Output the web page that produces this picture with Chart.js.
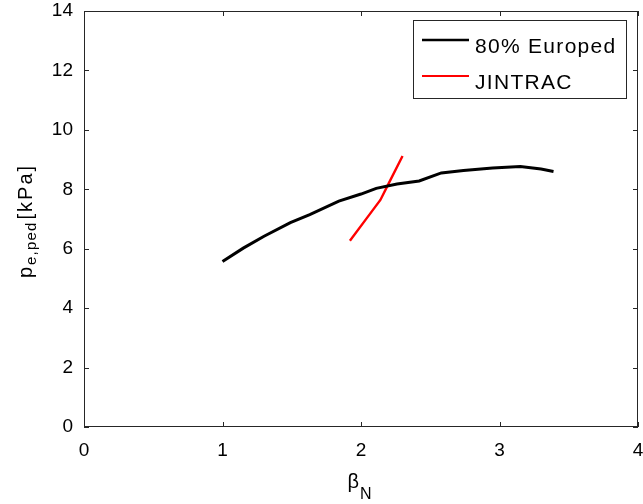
<!DOCTYPE html>
<html>
<head>
<meta charset="utf-8">
<script src="https://cdn.jsdelivr.net/npm/chart.js@4"></script>
<style>
  html, body { margin: 0; padding: 0; background: #fff; }
  #wrap { width: 643px; height: 504px; }
</style>
</head>
<body>
<div id="wrap"><canvas id="chart" width="643" height="504"></canvas></div>
<script>
// beta_N vs pedestal electron pressure
const europedBeta = [1.00, 1.15, 1.30, 1.49, 1.63, 1.84, 2.00, 2.11, 2.26, 2.42, 2.58, 2.74, 2.95, 3.15, 3.30, 3.39];
const europedPres = [5.57, 6.02, 6.42, 6.88, 7.15, 7.60, 7.84, 8.03, 8.18, 8.28, 8.55, 8.63, 8.72, 8.77, 8.68, 8.60];

const jintracBeta = [1.92, 2.05, 2.14, 2.20, 2.30];
const jintracPres = [6.27, 7.08, 7.64, 8.20, 9.12];

const xTicks = [0, 1, 2, 3, 4];
const yTicks = [0, 2, 4, 6, 8, 10, 12, 14];

const FONT = '"Liberation Sans", Arial, Helvetica, sans-serif';

function toPoints(xs, ys) {
    return xs.map((x, i) => ({ x: x, y: ys[i] }));
}

// box frame, inward ticks on all four sides, axis titles with subscripts, legend
const matlabAxes = {
    id: 'matlabAxes',
    afterDraw(chart) {
        const ctx = chart.ctx;
        const a = chart.chartArea;
        const xs = chart.scales.x;
        const ys = chart.scales.y;
        ctx.save();
        ctx.strokeStyle = '#262626';
        ctx.lineWidth = 1;
        ctx.strokeRect(a.left + 0.5, a.top + 0.5, a.right - a.left - 1, a.bottom - a.top - 1);

        const tl = 5;
        ctx.beginPath();
        xTicks.forEach(v => {
            const px = Math.round(xs.getPixelForValue(v)) + 0.5;
            ctx.moveTo(px, a.bottom); ctx.lineTo(px, a.bottom - tl);
            ctx.moveTo(px, a.top); ctx.lineTo(px, a.top + tl);
        });
        yTicks.forEach(v => {
            const py = Math.round(ys.getPixelForValue(v)) + 0.5;
            ctx.moveTo(a.left, py); ctx.lineTo(a.left + tl, py);
            ctx.moveTo(a.right, py); ctx.lineTo(a.right - tl, py);
        });
        ctx.stroke();

        // x title: beta_N
        ctx.fillStyle = '#000';
        ctx.textBaseline = 'alphabetic';
        ctx.textAlign = 'left';
        ctx.font = '20px ' + FONT;
        const bw = ctx.measureText('β').width;
        ctx.font = '16px ' + FONT;
        const nw = ctx.measureText('N').width;
        let x0 = (a.left + a.right) / 2 - (bw + nw) / 2 - 2;
        ctx.font = '20px ' + FONT;
        ctx.fillText('β', x0, 488);
        ctx.font = '16px ' + FONT;
        ctx.fillText('N', x0 + bw + 1, 499);

        // y title: p_{e,ped} [kPa], rotated
        ctx.save();
        ctx.translate(32, 221);
        ctx.rotate(-Math.PI / 2);
        ctx.font = '20px ' + FONT;
        ctx.letterSpacing = '2px';
        const pw = ctx.measureText('p').width;
        const kw = ctx.measureText('[kPa]').width;
        ctx.font = '15px ' + FONT;
        ctx.letterSpacing = '1.2px';
        const sw = ctx.measureText('e,ped').width;
        let s = -(pw + sw + 2 + kw) / 2;
        ctx.font = '20px ' + FONT;
        ctx.letterSpacing = '2px';
        ctx.fillText('p', s, 0);
        ctx.fillText('[kPa]', s + pw + sw + 2, 0);
        ctx.font = '15px ' + FONT;
        ctx.letterSpacing = '1.2px';
        ctx.fillText('e,ped', s + pw, 4);
        ctx.restore();

        // legend
        const lx = 413.5, ly = 20.5, lw = 213, lh = 78;
        ctx.fillStyle = '#fff';
        ctx.fillRect(lx, ly, lw, lh);
        ctx.strokeStyle = '#262626';
        ctx.strokeRect(lx, ly, lw, lh);
        const entries = [
            { text: '80% Europed', color: '#000000', y: 40, width: 2.5 },
            { text: 'JINTRAC', color: '#ff0000', y: 76, width: 2 }
        ];
        ctx.font = '21px ' + FONT;
        ctx.letterSpacing = '1.3px';
        entries.forEach(e => {
            ctx.strokeStyle = e.color;
            ctx.lineWidth = e.width;
            ctx.beginPath();
            ctx.moveTo(422, e.y);
            ctx.lineTo(469, e.y);
            ctx.stroke();
            ctx.fillStyle = '#000';
            ctx.fillText(e.text, 475, e.y + 13);
        });
        ctx.restore();
    }
};

new Chart(document.getElementById('chart'), {
    type: 'scatter',
    data: {
        datasets: [
            {
                label: '80% Europed',
                data: toPoints(europedBeta, europedPres),
                showLine: true,
                borderColor: '#000000',
                borderWidth: 3,
                pointRadius: 0,
                tension: 0
            },
            {
                label: 'JINTRAC',
                data: toPoints(jintracBeta, jintracPres),
                showLine: true,
                borderColor: '#ff0000',
                borderWidth: 2.4,
                pointRadius: 0,
                tension: 0
            }
        ]
    },
    options: {
        responsive: false,
        animation: false,
        layout: { padding: { top: 11, right: 5, left: 0, bottom: 0 } },
        plugins: {
            legend: { display: false },
            tooltip: { enabled: false }
        },
        scales: {
            x: {
                type: 'linear',
                min: 0,
                max: 4,
                afterBuildTicks: s => { s.ticks = xTicks.map(v => ({ value: v })); },
                afterFit: s => { s.height = 77; s.paddingLeft = 0; s.paddingRight = 0; },
                grid: { display: false, drawTicks: false },
                border: { display: false },
                ticks: { color: '#000', padding: 12, font: { family: FONT, size: 19 } }
            },
            y: {
                type: 'linear',
                min: 0,
                max: 14,
                afterBuildTicks: s => { s.ticks = yTicks.map(v => ({ value: v })); },
                afterFit: s => { s.width = 84; s.paddingTop = 0; s.paddingBottom = 0; },
                grid: { display: false, drawTicks: false },
                border: { display: false },
                ticks: { color: '#000', padding: 11, font: { family: FONT, size: 19 } }
            }
        }
    },
    plugins: [matlabAxes]
});
</script>
</body>
</html>
